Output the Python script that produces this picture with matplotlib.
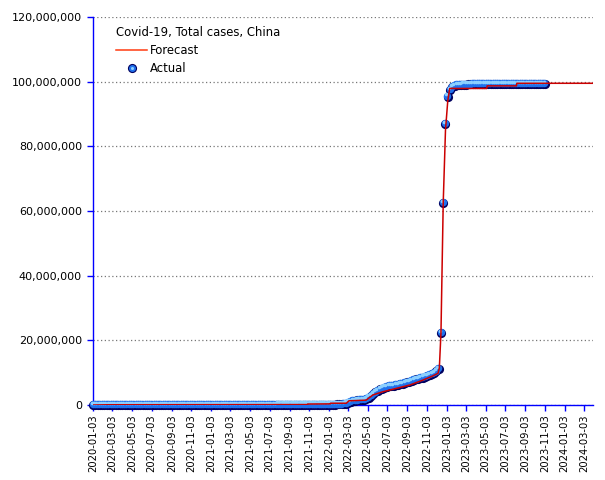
import matplotlib
matplotlib.use("Agg")
import matplotlib.pyplot as plt
import matplotlib.transforms as mtransforms
from matplotlib.lines import Line2D
from matplotlib.legend_handler import HandlerTuple
import matplotlib.ticker as mticker
import pandas as pd
import numpy as np

# ---------------- data ----------------
title = "Covid-19, Total cases, China"
actual_start = "2020-01-03"   # weekly observations (Fridays)
actual_freq = "7D"
# cumulative cases, millions
actual_2020 = [0.0, 0.0, 0.0001, 0.0009, 0.0098,
               0.031, 0.064, 0.076, 0.079,
               0.0806, 0.0810, 0.0812, 0.0816,
               0.0821, 0.0825, 0.0828, 0.0830,
               0.0832, 0.0832, 0.0832, 0.0832, 0.0832,
               0.0834, 0.0837, 0.0840, 0.0845,
               0.0850, 0.0855, 0.0862, 0.0870, 0.0880,
               0.0885, 0.0890, 0.0895, 0.0900,
               0.0903, 0.0906, 0.0908, 0.0910,
               0.0912, 0.0915, 0.0918, 0.0921, 0.0925,
               0.0928, 0.0932, 0.0936, 0.0940,
               0.0945, 0.0950, 0.0955, 0.0960,
               0.0965]
actual_2021 = [0.098, 0.099, 0.1005, 0.1015,
               0.102, 0.1025, 0.103, 0.1035,
               0.104, 0.1042, 0.1045, 0.1048,
               0.105, 0.1053, 0.1056, 0.106, 0.1065,
               0.107, 0.108, 0.110, 0.115,
               0.118, 0.121, 0.123, 0.125,
               0.126, 0.127, 0.1275, 0.128, 0.129,
               0.130, 0.131, 0.1315, 0.132,
               0.1325, 0.133, 0.1335, 0.134,
               0.1345, 0.135, 0.1355, 0.136, 0.137,
               0.138, 0.139, 0.140, 0.141,
               0.142, 0.143, 0.144, 0.145, 0.146]
actual_2022 = [0.148, 0.150, 0.152, 0.155,
               0.16, 0.18, 0.25, 0.45,
               0.75, 1.0, 1.2, 1.3,
               1.4, 1.45, 1.5, 1.6, 1.9,
               2.3, 2.8, 3.3, 3.9,
               4.4, 4.8, 5.1, 5.4,
               5.6, 5.8, 5.9, 6.0, 6.1,
               6.3, 6.5, 6.6, 6.8,
               7.0, 7.2, 7.5, 7.7, 7.9,
               8.1, 8.3, 8.5, 8.8,
               9.0, 9.3, 9.6, 9.9,
               10.4, 11.1, 22.3, 62.6, 87.0]
actual_2023 = [95.4, 97.4, 98.3, 98.7,
               98.9, 99.0, 99.05, 99.1,
               99.12, 99.14, 99.16, 99.18, 99.2,
               99.21, 99.22, 99.23, 99.24,
               99.25, 99.26, 99.27, 99.27,
               99.28, 99.28, 99.29, 99.29, 99.29,
               99.30, 99.30, 99.30, 99.30,
               99.30, 99.31, 99.31, 99.31,
               99.31, 99.31, 99.31, 99.31, 99.31,
               99.32, 99.32, 99.32, 99.32,
               99.32]

forecast_dates = ["2020-01-03", "2020-02-20", "2021-10-28", "2021-10-29",
                  "2022-01-07", "2022-01-08", "2022-02-26", "2022-03-06",
                  "2022-04-28", "2022-05-19", "2022-06-19", "2022-08-02",
                  "2022-09-11", "2022-10-21", "2022-11-21", "2022-12-07",
                  "2022-12-11", "2022-12-16", "2022-12-23", "2022-12-30",
                  "2023-01-06", "2023-01-12", "2023-05-07", "2023-05-08",
                  "2023-08-07", "2023-08-08", "2024-03-31"]
forecast_vals = [0.0, 0.075, 0.13, 0.3,
                 0.35, 0.55, 0.55, 1.3,
                 1.5, 3.1, 4.1, 5.2,
                 6.2, 7.7, 9.0, 9.8,
                 11.5, 22.3, 62.6, 85.0,
                 94.0, 97.9, 97.9, 98.7,
                 98.7, 99.5, 99.5]

xtick_labels = ["2020-01-03", "2020-03-03", "2020-05-03", "2020-07-03", "2020-09-03",
                "2020-11-03", "2021-01-03", "2021-03-03", "2021-05-03", "2021-07-03",
                "2021-09-03", "2021-11-03", "2022-01-03", "2022-03-03", "2022-05-03",
                "2022-07-03", "2022-09-03", "2022-11-03", "2023-01-03", "2023-03-03",
                "2023-05-03", "2023-07-03", "2023-09-03", "2023-11-03", "2024-01-03",
                "2024-03-03"]
yticks = [0, 20e6, 40e6, 60e6, 80e6, 100e6, 120e6]
x_end = "2024-03-31"

# ---------------- figure ----------------
actual_vals = np.array(actual_2020 + actual_2021 + actual_2022 + actual_2023) * 1e6
actual_dates = pd.date_range(actual_start, periods=len(actual_vals), freq=actual_freq)
fc_dates = pd.to_datetime(forecast_dates)
fc_vals = np.array(forecast_vals) * 1e6

fig = plt.figure(figsize=(6.05, 4.80), dpi=100)
ax = fig.add_axes([93 / 605, 1 - 405 / 480, 500 / 605, 388 / 480])

dark = "#00005e"
mid = "#1f70ec"
light = "#8cd0ff"

off1 = mtransforms.offset_copy(ax.transData, fig=fig, x=-0.3, y=0.6, units="points")
off2 = mtransforms.offset_copy(ax.transData, fig=fig, x=-0.9, y=1.5, units="points")

ax.plot(actual_dates, actual_vals, linestyle="none", marker="o", markersize=6.6,
        markerfacecolor=dark, markeredgecolor=dark, markeredgewidth=0, zorder=3,
        clip_on=False)
ax.plot(actual_dates, actual_vals, linestyle="none", marker="o", markersize=5.4,
        markerfacecolor=mid, markeredgewidth=0, transform=off1, zorder=4, clip_on=False)
ax.plot(actual_dates, actual_vals, linestyle="none", marker="o", markersize=2.6,
        markerfacecolor=light, markeredgewidth=0, transform=off2, zorder=5, clip_on=False)

ax.plot(fc_dates, fc_vals, color="#cc0000", linewidth=1.1, zorder=6)

ax.set_xlim(pd.Timestamp(xtick_labels[0]), pd.Timestamp(x_end))
ax.set_ylim(0, 120e6)
ax.set_yticks(yticks)
ax.yaxis.set_major_formatter(mticker.FuncFormatter(lambda v, p: f"{int(round(v)):,}"))
ax.set_xticks(pd.to_datetime(xtick_labels))
ax.set_xticklabels(xtick_labels, rotation=90, fontsize=7.2)
ax.tick_params(axis="y", labelsize=8, colors="#0000ff", labelcolor="black",
               length=4.5, width=1, pad=3.5, direction="out")
ax.tick_params(axis="x", colors="#0000ff", labelcolor="black",
               length=4, width=1, pad=2.5, direction="out")

for s in ["top", "right"]:
    ax.spines[s].set_visible(False)
for s in ["left", "bottom"]:
    ax.spines[s].set_color("#0000ff")
    ax.spines[s].set_linewidth(1)

ax.grid(axis="y", color="#777777", linestyle=(0, (1, 2)), linewidth=0.9)
ax.set_axisbelow(True)

# legend
h_fc = Line2D([], [], color="#ff3a10", linewidth=1.1)
h_a1 = Line2D([], [], linestyle="none", marker="o", markersize=6.6, markerfacecolor=dark,
              markeredgewidth=0)
h_a2 = Line2D([], [], linestyle="none", marker="o", markersize=5.0, markerfacecolor=mid,
              markeredgewidth=0)
h_a3 = Line2D([], [], linestyle="none", marker="o", markersize=2.2, markerfacecolor=light,
              markeredgewidth=0)
leg = ax.legend([h_fc, (h_a1, h_a2, h_a3)], ["Forecast", "Actual"],
                handler_map={tuple: HandlerTuple(ndivide=1, pad=0)},
                title=title, loc="upper left", bbox_to_anchor=(0.042, 0.982),
                frameon=False, fontsize=8.4, title_fontsize=8.4,
                handlelength=2.6, handletextpad=0.3, labelspacing=0.4,
                borderpad=0.2, borderaxespad=0.0, alignment="left")

fig.savefig("out.png", dpi=100)
